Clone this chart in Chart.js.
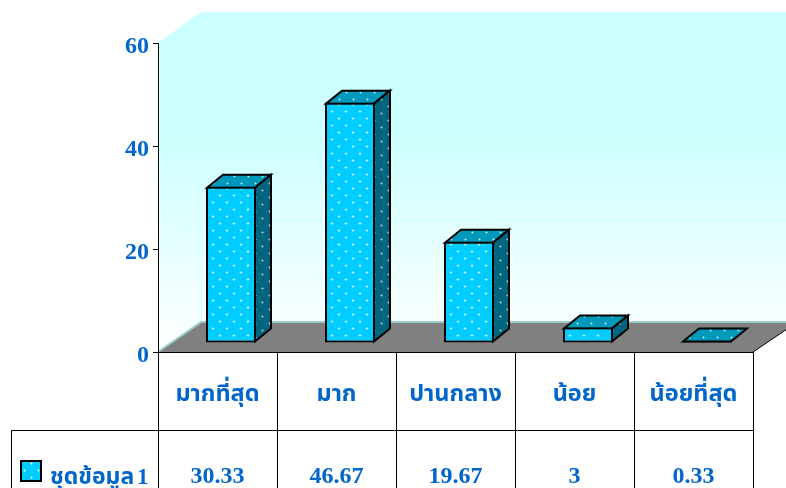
<!DOCTYPE html>
<html><head><meta charset="utf-8">
<style>html,body{margin:0;padding:0;background:#fff;overflow:hidden}canvas{display:block}</style>
<script src="https://cdn.jsdelivr.net/npm/chart.js@4"></script></head>
<body><canvas id="c" width="786" height="488"></canvas>
<script>
const categories = ["มากที่สุด","มาก","ปานกลาง","น้อย","น้อยที่สุด"];
const seriesName = "ชุดข้อมูล 1";
const seriesValues = [30.33,46.67,19.67,3,0.33];
const valueLabels = ["30.33","46.67","19.67","3","0.33"];
const yTicks = [0,20,40,60];

const BLUE="#0066cc", FONT='"Liberation Serif","Noto Sans Thai","Noto Sans",serif';
const DX=43, TOPDY=-31, FLOORDY=-29, BAR={dx:13.5,dy:-9}, SIDE={dx:16,dy:-13};
function dots(bg,dot,alpha){
  const p=document.createElement("canvas");p.width=14;p.height=14;
  const g=p.getContext("2d");g.fillStyle=bg;g.fillRect(0,0,14,14);
  g.fillStyle=dot;
  [[10,8],[3,1]].forEach(([x,y])=>{
    g.globalAlpha=alpha*.55;g.fillRect(x-1,y,3,1);g.fillRect(x,y-1,1,3);
    g.globalAlpha=alpha;g.fillRect(x,y,1,1);
  });
  return document.getElementById("c").getContext("2d").createPattern(p,"repeat");
}
const frontFill=dots("#00ccff","#ffffff",1), sideFill=dots("#006680","#c0ccd2",.9), topFill=dots("#0099bb","#c4e8f0",.9);
function poly(ctx,pts,fill,stroke,w){
  ctx.beginPath();pts.forEach((p,i)=>i?ctx.lineTo(p[0],p[1]):ctx.moveTo(p[0],p[1]));ctx.closePath();
  if(fill){ctx.fillStyle=fill;ctx.fill();}
  if(stroke){ctx.strokeStyle=stroke;ctx.lineWidth=w||1;ctx.lineJoin="miter";ctx.stroke();}
}
const scene={id:"scene",
  beforeDraw(ch){
    const c=ch.ctx,a=ch.chartArea,y=ch.scales.y,W=ch.width;
    const bx=a.left+DX, wt=a.top+TOPDY, wb=a.bottom+FLOORDY;
    c.save();c.beginPath();c.rect(0,0,W,ch.height);c.clip();
    const grad=c.createLinearGradient(0,wt,0,a.bottom);
    grad.addColorStop(0,"#ccffff");grad.addColorStop(.35,"#ccffff");grad.addColorStop(1,"#ffffff");
    poly(c,[[bx,wt],[W,wt],[W,wb],[bx,wb]],grad);
    poly(c,[[a.left,a.top],[bx,wt],[bx,wb],[a.left,a.bottom]],grad);
    c.strokeStyle="#ccffff";c.lineWidth=1;
    yTicks.slice(1,-1).forEach(v=>{const p=Math.round(y.getPixelForValue(v))+.5;
      c.beginPath();c.moveTo(a.left,p);c.lineTo(bx,p-30);c.lineTo(W,p-30);c.stroke();});
    c.beginPath();c.moveTo(bx+.5,wt);c.lineTo(bx+.5,wb);c.stroke();
    poly(c,[[a.left,a.bottom],[bx,wb],[a.right+DX,wb],[a.right,a.bottom]],"#808080");
    c.strokeStyle="#99cccc";c.lineWidth=2;c.beginPath();c.moveTo(a.left,a.bottom);c.lineTo(bx,wb-1);c.lineTo(W,wb-1);c.stroke();
    c.strokeStyle="#000";c.lineWidth=1;c.beginPath();c.moveTo(a.right,a.bottom);c.lineTo(a.right+DX,wb);c.stroke();
    c.restore();
  },
  beforeDatasetDraw(ch){
    const c=ch.ctx;
    ch.getDatasetMeta(0).data.forEach(b=>{
      const l=b.x-b.width/2+BAR.dx+1, r=l+b.width-2, bt=b.base+BAR.dy-1, t=Math.min(b.y+BAR.dy+1,bt);
      poly(c,[[l,t],[l+SIDE.dx,t+SIDE.dy],[r+SIDE.dx,t+SIDE.dy],[r,t]],topFill,"#000",2);
      if(bt-t>2) poly(c,[[r,t],[r+SIDE.dx,t+SIDE.dy],[r+SIDE.dx,bt+SIDE.dy],[r,bt]],sideFill,"#000",2);
    });
    c.save();c.translate(BAR.dx,BAR.dy);
  },
  afterDatasetDraw(ch){ch.ctx.restore();},
  afterDraw(ch){
    const c=ch.ctx,a=ch.chartArea,x=ch.scales.x,H=ch.height;
    c.save();c.strokeStyle="#000";c.lineWidth=1;
    const hl=(x0,x1,y)=>{c.beginPath();c.moveTo(x0,y+.5);c.lineTo(x1,y+.5);c.stroke();};
    const vl=(x0,y0,y1)=>{c.beginPath();c.moveTo(x0+.5,y0);c.lineTo(x0+.5,y1);c.stroke();};
    const cw=(a.right-a.left)/categories.length;
    hl(11,a.right,430);vl(11,430,H);
    for(let i=0;i<=categories.length;i++) vl(Math.round(a.left+i*cw),a.bottom,H);
    c.fillStyle=BLUE;c.font='bold 24px '+FONT;c.textAlign="center";c.textBaseline="alphabetic";
    valueLabels.forEach((t,i)=>c.fillText(t,x.getPixelForValue(i),483));
    c.textAlign="left";c.font='bold 23px '+FONT;c.wordSpacing="-3px";c.fillText(seriesName,50,484);c.wordSpacing="0px";
    c.fillStyle=frontFill;c.fillRect(21,461,20,20);c.strokeStyle="#000";c.lineWidth=2;c.strokeRect(21,461,20,20);
    c.restore();
  }
};
new Chart(document.getElementById("c"),{
  type:"bar",
  data:{labels:categories,datasets:[{label:seriesName,data:seriesValues,backgroundColor:frontFill,borderColor:"#000",borderWidth:2,borderSkipped:false,
    barPercentage:.84,categoryPercentage:.5,clip:false}]},
  plugins:[scene],
  options:{responsive:false,animation:false,
    layout:{padding:{top:43,right:33,left:0,bottom:0}},
    plugins:{legend:{display:false},tooltip:{enabled:false}},
    scales:{
      x:{afterFit(s){s.height=136;},grid:{display:false},border:{color:"#000",width:1},
        ticks:{color:BLUE,font:{family:FONT,size:23.5,weight:"bold"},padding:21,maxRotation:0,autoSkip:false}},
      y:{min:0,max:60,
        afterFit(s){
          s.width=158;
          if(!s._shifted){s._shifted=true;const f=s._computeLabelItems;
            s._computeLabelItems=function(ca){const r=f.call(this,ca);r.forEach(i=>{i.options.translation=[i.options.translation[0],i.options.translation[1]+4];});return r;};}
        },
        grid:{display:true,drawOnChartArea:false,drawTicks:true,tickLength:5,tickColor:"#000"},border:{color:"#000",width:1},
        afterBuildTicks(s){s.ticks=yTicks.map(v=>({value:v}));},
        ticks:{color:BLUE,font:{family:FONT,size:24,weight:"bold"},padding:4}}
    }}
});
</script></body></html>
